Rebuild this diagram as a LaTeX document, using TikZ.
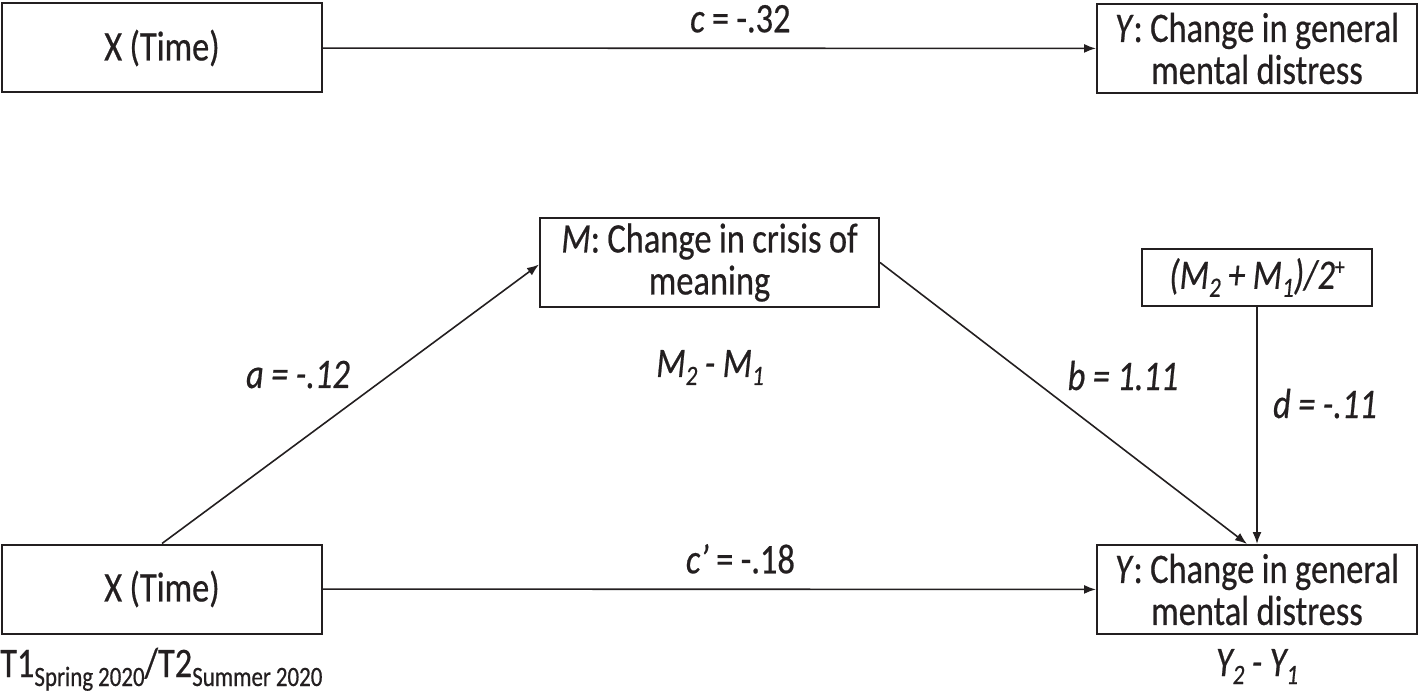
\documentclass[tikz,border=0pt]{standalone}
\usepackage{fontspec}
\setmainfont{Carlito}[FakeStretch=0.82,WordSpace=0.95,FakeBold=0.5]
\usetikzlibrary{arrows.meta}
\definecolor{ink}{RGB}{35,31,32}
\newcommand{\sbt}[1]{\raisebox{-9pt}{\fontsize{28}{28}\selectfont #1}}
\newcommand{\sbi}[1]{\raisebox{-8pt}{\fontsize{28}{28}\selectfont\itshape #1}}
\begin{document}
\begin{tikzpicture}[x=1pt,y=-1pt,
  every node/.style={font=\fontsize{42}{42}\selectfont, text=ink},
  box/.style={draw=ink, line width=2pt, inner sep=0pt, align=flush center, text width=320pt, minimum height=89pt},
  conn/.style={draw=ink, line width=1.6pt, -{Latex[length=12pt,width=9pt]}},
  lab/.style={anchor=base, inner sep=0pt}
]
\useasboundingbox (0,0) rectangle (1424,692);
\node[box] (X1) at (162,48) {X (Time)};
\node[box] (Y1) at (1257,48.5) {\textit{Y}: Change in general\\mental distress};
\node[box, text width=339pt] (M) at (709.5,262.5) {\textit{M}: Change in crisis of\\meaning};
\node[box, text width=230pt, minimum height=57pt] (D) at (1257,277.5) {\textit{(M\sbi{2} + M\sbi{1})/2}\raisebox{14pt}{\fontsize{24}{24}\selectfont +}};
\node[box] (X2) at (162,589) {X (Time)};
\node[box] (Y2) at (1257,589.5) {\textit{Y}: Change in general\\mental distress};
\coordinate (bt) at (1247,544);
\draw[conn] (X1) -- node[lab, pos=0.54, yshift=16pt] {\textit{c} = -.32} (Y1);
\draw[conn] (X2) -- node[lab, pos=0.54, yshift=16pt] {\textit{c’} = -.18} (Y2);
\draw[conn] (X2.north) -- ([yshift=-2pt]M.west);
\draw[conn] (M.east) -- (bt);
\draw[conn] (D.south) -- (D.south |- Y2.north);
\node[lab] (la) at (298,388) {\textit{a = -.12}};
\node[lab] (lb) at (1123,390) {\textit{b = 1.11}};
\node[lab] (ld) at (1325,418) {\textit{d = -.11}};
\node[lab] (lm) at (710,377) {\textit{M\sbi{2} - M\sbi{1}}};
\node[lab] (ly) at (1257,676) {\textit{Y\sbi{2} - Y\sbi{1}}};
\node[lab, anchor=base west] (lt) at (0,677) {T1\sbt{Spring 2020}/T2\sbt{Summer 2020}};
\end{tikzpicture}
\end{document}
